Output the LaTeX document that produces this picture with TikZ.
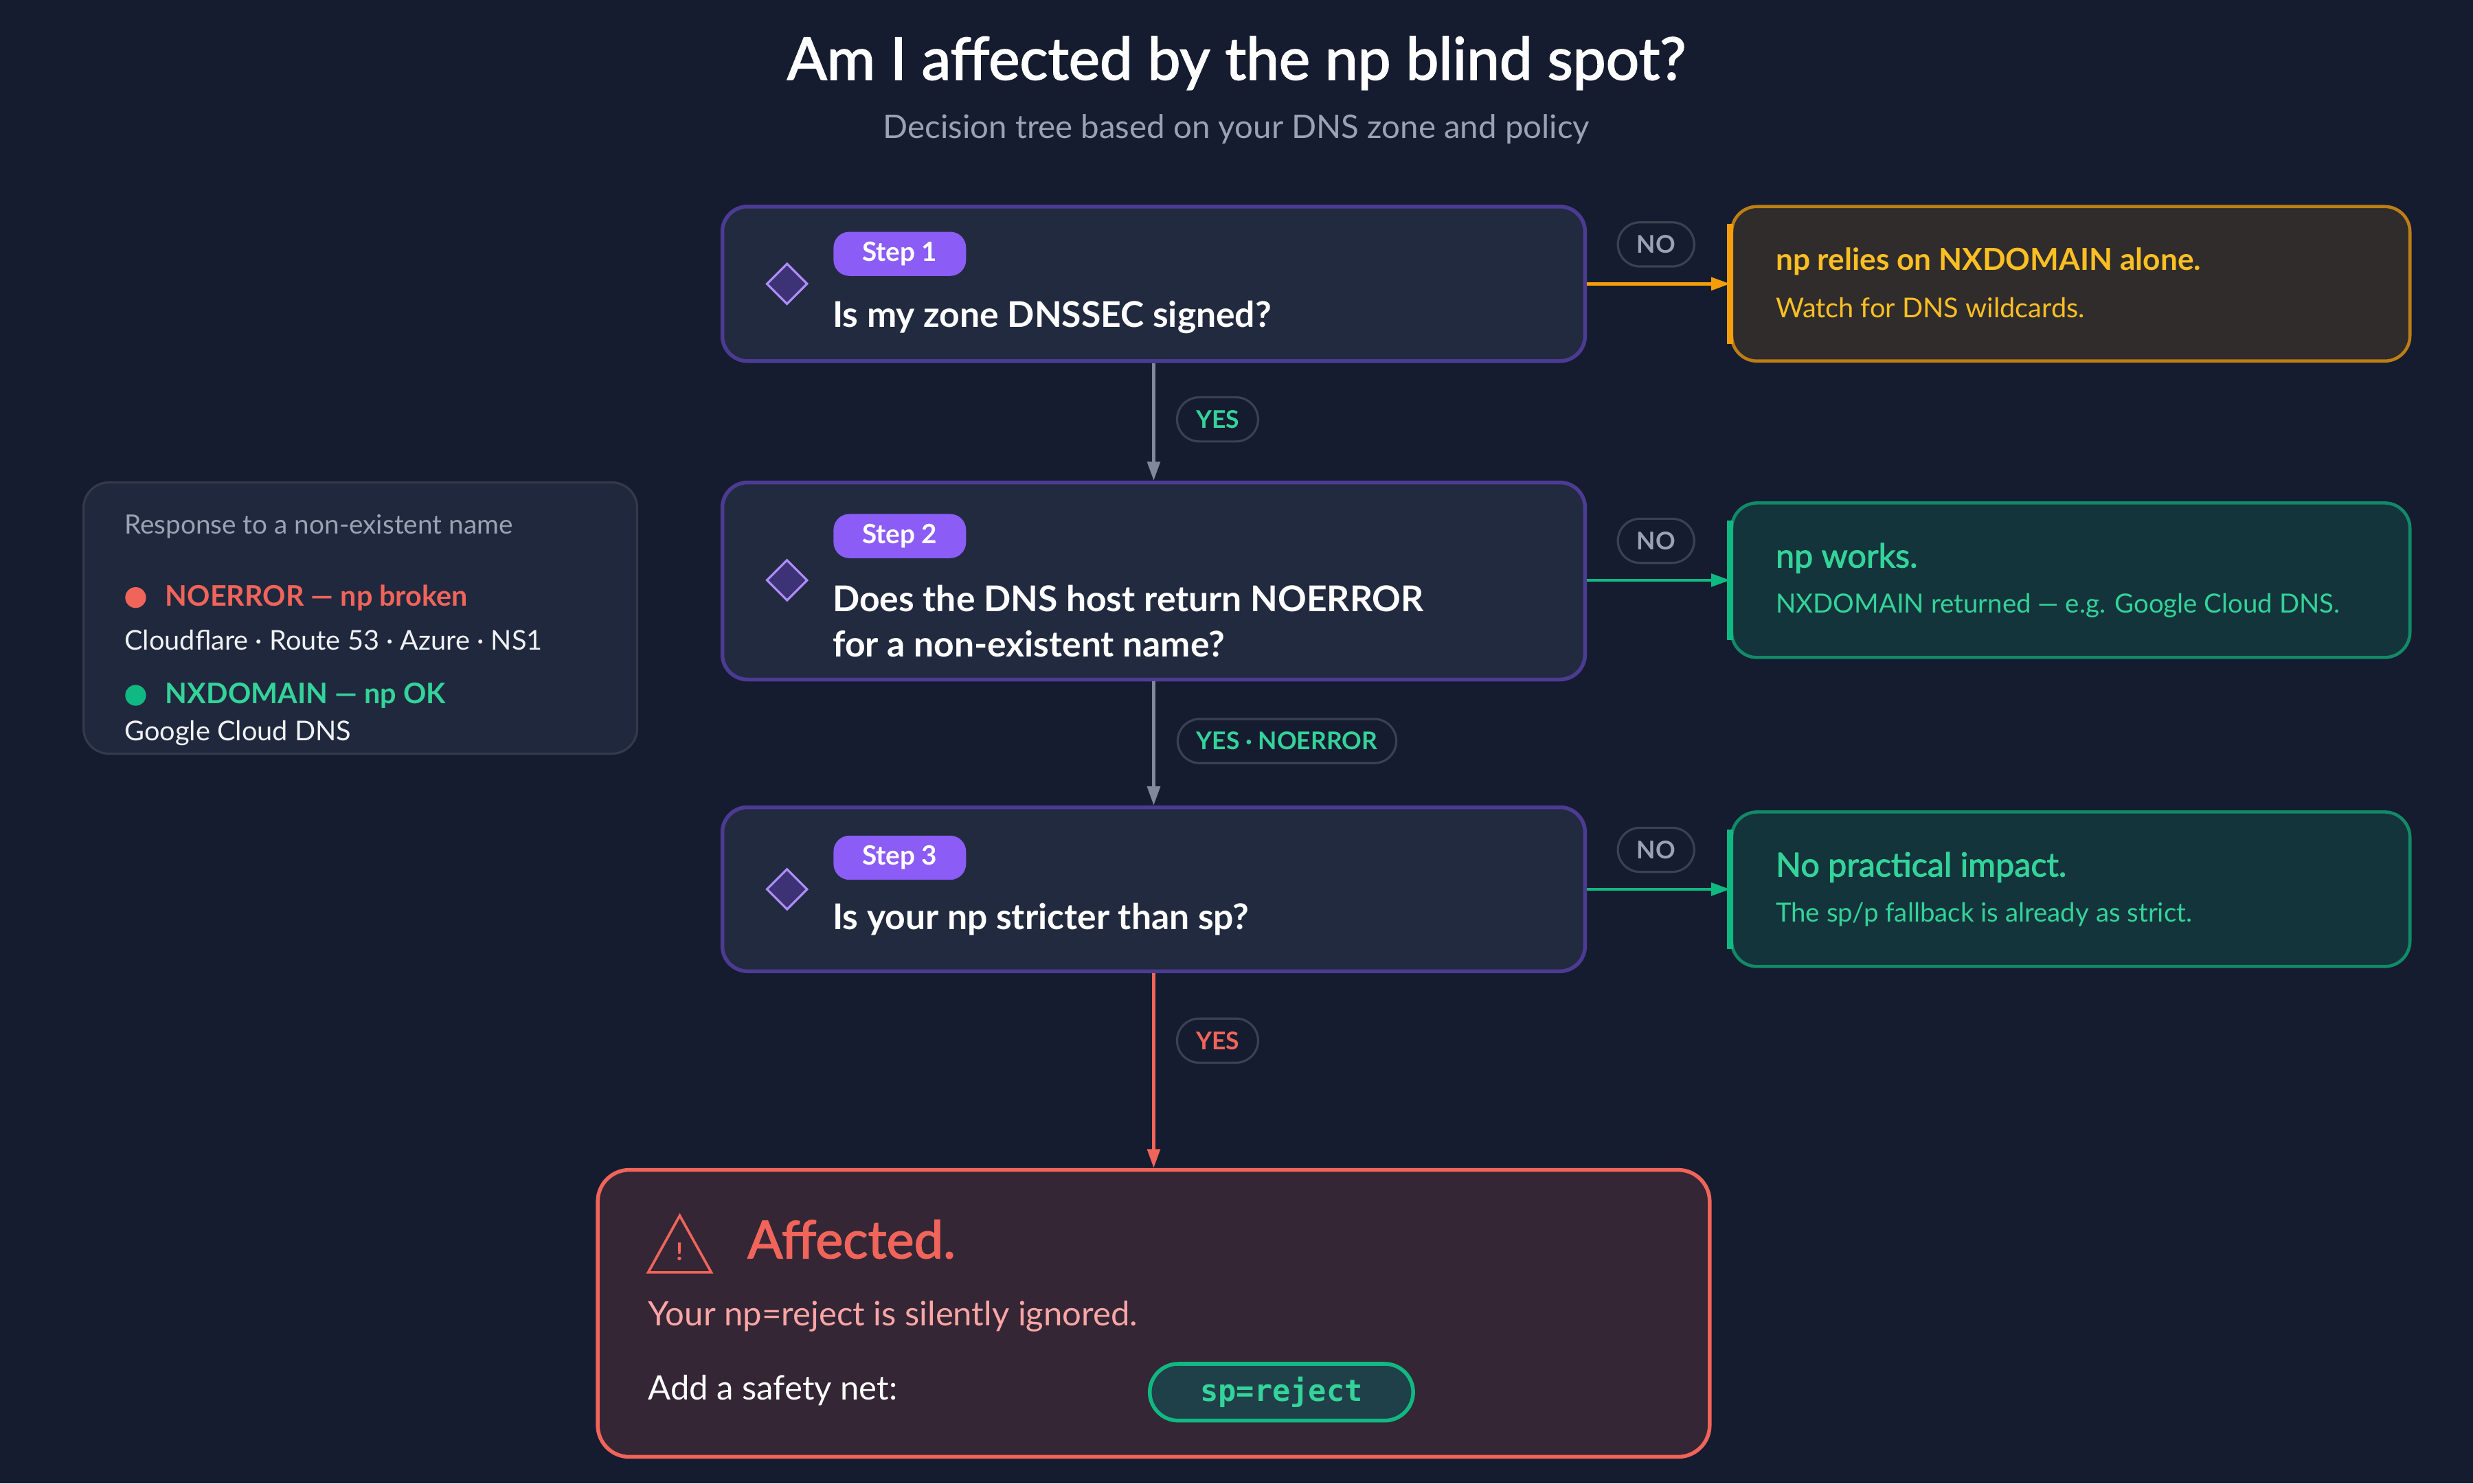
\documentclass[tikz,border=0pt]{standalone}
\usepackage{fontspec}
\setmainfont{Lato}
\newfontfamily\monofont{DejaVu Sans Mono}
\newfontfamily\heavyfont{Lato}[BoldFont=*, BoldFeatures={FakeBold=2}]
\usetikzlibrary{positioning,arrows.meta,shapes.geometric}
\definecolor{bgc}{HTML}{151C2F}
\definecolor{boxc}{HTML}{222A3F}
\definecolor{purpc}{HTML}{4C3B93}
\definecolor{pillc}{HTML}{8B5CF6}
\definecolor{grayt}{HTML}{9AA3B5}
\definecolor{pillb}{HTML}{394152}
\definecolor{greenc}{HTML}{34D399}
\definecolor{greenb}{HTML}{10B981}
\definecolor{orgc}{HTML}{F59E0B}
\definecolor{yelc}{HTML}{FBBF24}
\definecolor{redc}{HTML}{F0645A}
\definecolor{pinkc}{HTML}{FCA5A5}
\begin{document}
\begin{tikzpicture}[x=0.25mm, y=-0.25mm, >={Triangle[length=3mm,width=2mm]},
  stepbox/.style = {draw=purpc, line width=0.6mm, fill=boxc, rounded corners=4mm, minimum width=136.75mm},
  resbox/.style = {line width=0.5mm, rounded corners=4mm, minimum width=107.5mm, minimum height=24.5mm},
  steptag/.style = {fill=pillc, text=white, rounded corners=2.5mm, font=\bfseries\fontsize{12}{14}\selectfont, minimum width=21mm, minimum height=7mm},
  lbl/.style = {draw=pillb, line width=0.35mm, fill=bgc, rounded corners=3.5mm, font=\bfseries\fontsize{11}{12}\selectfont, minimum height=7mm, inner xsep=3mm},
  qmark/.style = {diamond, draw=pillc!70!white, fill=purpc!70!bgc, line width=0.35mm, minimum width=6.5mm, minimum height=6.5mm, inner sep=0pt},
  ask/.style = {text=white, font=\bfseries\fontsize{16}{20.5}\selectfont, anchor=west, align=left},
  ldot/.style = {circle, inner sep=0pt, minimum size=3.3mm}]
\fill[bgc] (0,0) rectangle (1568,941);
\useasboundingbox (0,0) rectangle (1568,941);

% title
\node (title) at (784,40) {\textcolor{white}{\heavyfont\fontsize{26.5}{30}\selectfont\bfseries Am I affected by the np blind spot?}};
\node[text=grayt, font=\fontsize{14.7}{17}\selectfont] (sub) at (784,82) {Decision tree based on your DNS zone and policy};

% steps
\node[stepbox, minimum height=24.5mm] (s1) at (731.5,180) {};
\node[stepbox, minimum height=31.25mm] (s2) at (731.5,368.5) {};
\node[stepbox, minimum height=26mm] (s3) at (731.5,564) {};
\node[steptag] (t1) at (570.5,161) {Step 1};
\node[steptag] (t2) at (570.5,340) {Step 2};
\node[steptag] (t3) at (570.5,544) {Step 3};
\node[qmark] (d1) at (499,180) {};
\node[qmark] (d2) at (499,368) {};
\node[qmark] (d3) at (499,564) {};
\node[ask] (q1) at (523,201) {Is my zone DNSSEC signed?};
\node[ask] (q2) at (523,394) {Does the DNS host return NOERROR\\for a non-existent name?};
\node[ask] (q3) at (523,583) {Is your np stricter than sp?};

% results
\node[resbox, draw=orgc!75!bgc, fill=orgc!12!bgc] (r1) at (1313,180) {};
\node[resbox, draw=greenb!70!bgc, fill=greenb!15!bgc] (r2) at (1313,368) {};
\node[resbox, draw=greenb!70!bgc, fill=greenb!15!bgc] (r3) at (1313,564) {};
\draw[orgc, line width=1mm] ([yshift=-3mm]r1.north west) -- ([yshift=3mm]r1.south west);
\draw[greenb, line width=1mm] ([yshift=-3mm]r2.north west) -- ([yshift=3mm]r2.south west);
\draw[greenb, line width=1mm] ([yshift=-3mm]r3.north west) -- ([yshift=3mm]r3.south west);
\node[anchor=west, text=yelc, font=\bfseries\fontsize{13.7}{16}\selectfont] (h1) at (1121,166) {np relies on NXDOMAIN alone.};
\node[anchor=west, text=yelc, font=\fontsize{12.3}{14}\selectfont] (b1) at (1121,195) {Watch for DNS wildcards.};
\node[anchor=west, text=greenc, font=\heavyfont\bfseries\fontsize{15}{16}\selectfont] (h2) at (1121,354) {np works.};
\node[anchor=west, text=greenc, font=\fontsize{11.9}{14}\selectfont] (b2) at (1121,384) {NXDOMAIN returned — e.g. Google Cloud DNS.};
\node[anchor=west, text=greenc, font=\heavyfont\bfseries\fontsize{15}{16}\selectfont] (h3) at (1121,550) {No practical impact.};
\node[anchor=west, text=greenc, font=\fontsize{11.9}{14}\selectfont] (b3) at (1121,580) {The sp/p fallback is already as strict.};

% connectors
\draw[->, orgc, line width=0.5mm] (s1.east) -- (r1.west);
\draw[->, greenb, line width=0.5mm] (s2.east |- r2) -- (r2.west);
\draw[->, greenb, line width=0.5mm] (s3.east) -- (r3.west);
\node[lbl, text=grayt] (n1) at (1050,155) {NO};
\node[lbl, text=grayt] (n2) at (1050,343) {NO};
\node[lbl, text=grayt] (n3) at (1050,539) {NO};
\draw[->, grayt!80!bgc, line width=0.5mm] (s1.south) -- (s2.north);
\draw[->, grayt!80!bgc, line width=0.5mm] (s2.south) -- (s3.north);
\node[lbl, text=greenc] (y1) at (772,266) {YES};
\node[lbl, text=greenc] (y2) at (816,470) {YES · NOERROR};

% affected
\node[draw=redc, line width=0.6mm, fill=redc!14!bgc, rounded corners=5mm, minimum width=176.25mm, minimum height=45.5mm] (af) at (731.5,833) {};
\draw[->, redc, line width=0.5mm] (s3.south) -- (af.north);
\node[lbl, text=redc] (y3) at (772,660) {YES};
\draw[redc, line width=0.4mm, line join=miter] (431,771) -- (451,807) -- (411,807) -- cycle;
\node[text=redc, font=\bfseries\fontsize{11}{12}\selectfont] (ex) at (431,794) {!};
\node[anchor=west, text=redc, font=\heavyfont\bfseries\fontsize{23.5}{26}\selectfont] (ah) at (469,786) {Affected.};
\node[anchor=west, text=pinkc, font=\fontsize{15.2}{17}\selectfont] (ab) at (406,835) {Your np=reject is silently ignored.};
\node[anchor=west, text=white, font=\fontsize{15.2}{17}\selectfont] (an) at (406,882) {Add a safety net:};
\node[draw=greenb, line width=0.6mm, fill=greenb!15!boxc, rounded corners=4.5mm, minimum width=41.75mm, minimum height=9mm, text=greenc, font=\monofont\bfseries\fontsize{13.5}{15}\selectfont] (sp) at (812.5,883) {sp=reject};

% legend
\node[draw=pillb!80!bgc, line width=0.35mm, fill=boxc!85!bgc, rounded corners=4mm, minimum width=87.75mm, minimum height=43mm] (leg) at (228.5,392) {};
\node[anchor=west, text=grayt, font=\fontsize{12}{14}\selectfont] (lt) at (74,334) {Response to a non-existent name};
\node[ldot, fill=redc] (rd) at (86,379) {};
\node[anchor=west, text=redc, font=\bfseries\fontsize{12.8}{14}\selectfont] (l1) at (100,379) {NOERROR — np broken};
\node[anchor=west, text=white!85!grayt, font=\fontsize{12.3}{14}\selectfont] (l2) at (74,406) {Cloudflare · Route 53 · Azure · NS1};
\node[ldot, fill=greenb] (gd) at (86,441) {};
\node[anchor=west, text=greenc, font=\bfseries\fontsize{12.8}{14}\selectfont] (l3) at (100,441) {NXDOMAIN — np OK};
\node[anchor=west, text=white!85!grayt, font=\fontsize{12.3}{14}\selectfont] (l4) at (74,465) {Google Cloud DNS};
\end{tikzpicture}
\end{document}
